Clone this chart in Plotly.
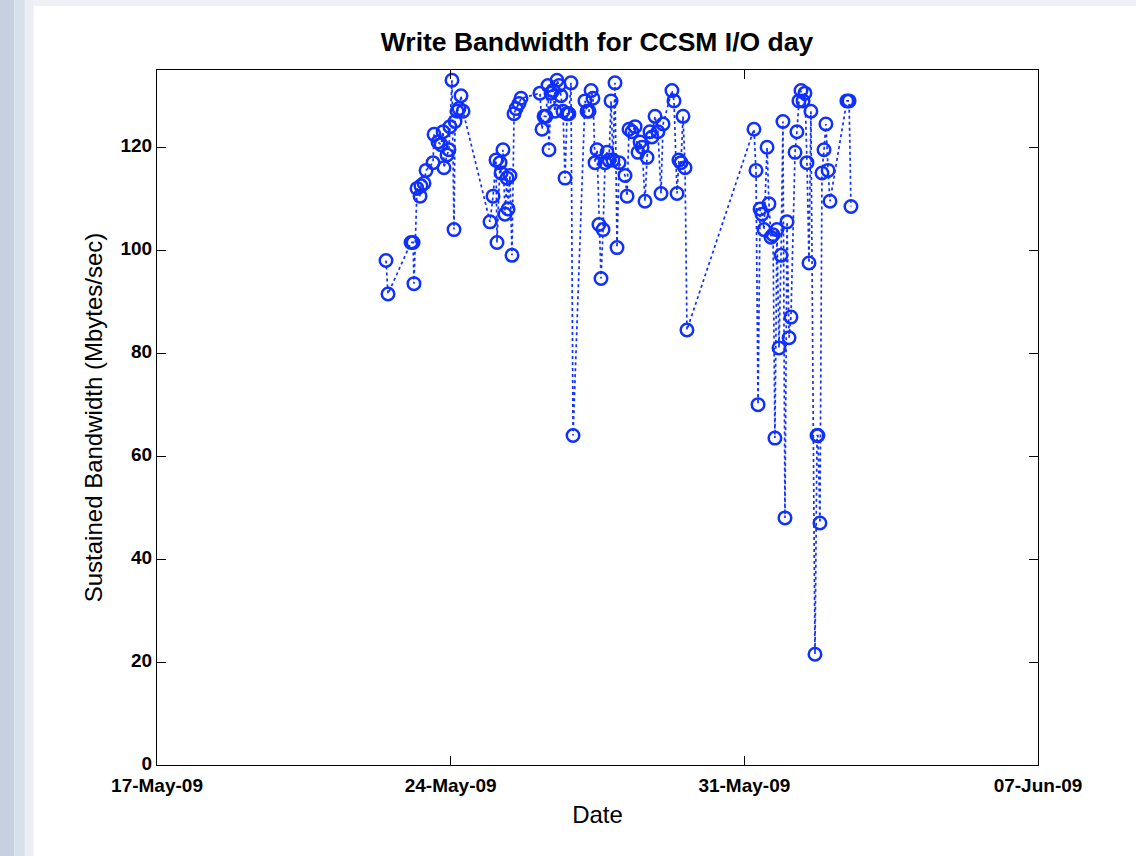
import plotly.graph_objects as go

times = [
    "2009-05-22 11:00", "2009-05-22 12:10", "2009-05-23 01:20", "2009-05-23 02:30", "2009-05-23 03:00",
    "2009-05-23 04:45", "2009-05-23 06:30", "2009-05-23 07:00", "2009-05-23 08:45", "2009-05-23 09:55",
    "2009-05-23 13:55", "2009-05-23 14:30", "2009-05-23 16:45", "2009-05-23 18:30", "2009-05-23 19:40",
    "2009-05-23 20:10", "2009-05-23 21:55", "2009-05-23 23:00", "2009-05-23 23:35", "2009-05-24 00:45",
    "2009-05-24 01:55", "2009-05-24 02:30", "2009-05-24 03:40", "2009-05-24 04:45", "2009-05-24 05:55",
    "2009-05-24 07:05", "2009-05-24 22:30", "2009-05-25 00:15", "2009-05-25 01:55", "2009-05-25 02:30",
    "2009-05-25 04:15", "2009-05-25 04:50", "2009-05-25 05:55", "2009-05-25 07:05", "2009-05-25 08:15",
    "2009-05-25 08:50", "2009-05-25 09:55", "2009-05-25 11:05", "2009-05-25 12:15", "2009-05-25 13:25",
    "2009-05-25 15:05", "2009-05-25 16:15", "2009-05-26 03:05", "2009-05-26 04:15", "2009-05-26 05:25",
    "2009-05-26 06:30", "2009-05-26 07:40", "2009-05-26 08:15", "2009-05-26 09:25", "2009-05-26 10:30",
    "2009-05-26 11:40", "2009-05-26 12:50", "2009-05-26 14:00", "2009-05-26 15:05", "2009-05-26 16:15",
    "2009-05-26 17:25", "2009-05-26 18:35", "2009-05-26 19:40", "2009-05-26 20:50", "2009-05-26 22:00",
    "2009-05-27 04:50", "2009-05-27 06:00", "2009-05-27 07:10", "2009-05-27 08:20", "2009-05-27 09:25",
    "2009-05-27 10:35", "2009-05-27 11:45", "2009-05-27 12:50", "2009-05-27 14:00", "2009-05-27 15:10",
    "2009-05-27 16:20", "2009-05-27 17:25", "2009-05-27 18:35", "2009-05-27 19:45", "2009-05-27 20:50",
    "2009-05-27 22:00", "2009-05-27 23:10", "2009-05-28 00:20", "2009-05-28 03:45", "2009-05-28 04:55",
    "2009-05-28 06:00", "2009-05-28 07:45", "2009-05-28 09:30", "2009-05-28 11:10", "2009-05-28 12:20",
    "2009-05-28 13:30", "2009-05-28 15:10", "2009-05-28 16:20", "2009-05-28 18:00", "2009-05-28 19:10",
    "2009-05-28 20:55", "2009-05-28 22:35", "2009-05-29 00:20", "2009-05-29 01:30", "2009-05-29 06:35",
    "2009-05-29 07:45", "2009-05-29 09:30", "2009-05-29 10:35", "2009-05-29 11:45", "2009-05-29 12:55",
    "2009-05-29 14:05", "2009-05-29 15:10", "2009-05-31 05:30", "2009-05-31 06:40", "2009-05-31 07:50",
    "2009-05-31 09:00", "2009-05-31 10:05", "2009-05-31 11:15", "2009-05-31 13:00", "2009-05-31 14:05",
    "2009-05-31 15:15", "2009-05-31 16:25", "2009-05-31 17:30", "2009-05-31 18:40", "2009-05-31 19:50",
    "2009-05-31 21:00", "2009-05-31 22:05", "2009-05-31 23:15", "2009-06-01 00:25", "2009-06-01 01:35",
    "2009-06-01 02:40", "2009-06-01 05:00", "2009-06-01 06:05", "2009-06-01 07:15", "2009-06-01 08:25",
    "2009-06-01 09:35", "2009-06-01 10:40", "2009-06-01 11:50", "2009-06-01 13:00", "2009-06-01 14:05",
    "2009-06-01 16:25", "2009-06-01 17:35", "2009-06-01 18:05", "2009-06-01 19:15", "2009-06-01 20:25",
    "2009-06-01 21:35", "2009-06-01 22:40", "2009-06-01 23:55", "2009-06-02 01:00", "2009-06-02 10:40",
    "2009-06-02 11:55", "2009-06-02 13:00",
]

bandwidth = [
    98, 91.5, 101.5, 101.5, 93.5,
    112, 110.5, 112.5, 113, 115.5,
    117, 122.5, 121, 120.5, 123,
    116, 118.5, 119.5, 124, 133,
    104, 125, 127, 127.5, 130,
    127, 105.5, 110.5, 117.5, 101.5,
    117, 115, 119.5, 107, 114,
    108, 114.5, 99, 126.5, 127.5,
    128.5, 129.5, 130.5, 123.5, 126,
    126, 132, 119.5, 130.5, 131,
    127, 133, 132, 130, 127,
    114, 126.5, 126.5, 132.5, 64,
    129, 127, 127, 131, 129.5,
    117, 119.5, 105, 94.5, 104,
    117, 119, 117.5, 129, 117.5,
    132.5, 100.5, 117, 114.5, 110.5,
    123.5, 123, 124, 119, 121,
    120, 109.5, 118, 123, 122,
    126, 123, 111, 124.5, 131,
    129, 111, 117.5, 117, 126,
    116, 84.5, 123.5, 115.5, 70,
    108, 107, 104, 120, 109,
    102.5, 103, 63.5, 104, 81,
    99, 125, 48, 105.5, 83,
    87, 119, 123, 129, 131,
    129, 130.5, 117, 97.5, 127,
    21.5, 64, 64, 47, 115,
    119.5, 124.5, 115.5, 109.5, 129,
    129, 108.5,
]

x_tick_vals = ["2009-05-17", "2009-05-24", "2009-05-31", "2009-06-07"]
x_tick_text = ["17-May-09", "24-May-09", "31-May-09", "07-Jun-09"]
y_tick_vals = [0, 20, 40, 60, 80, 100, 120]

blue = "#1030ff"
font_family = "Liberation Sans, Arial, sans-serif"

fig = go.Figure()
fig.add_trace(go.Scatter(
    x=times, y=bandwidth, mode="lines+markers",
    line=dict(color=blue, width=1.7, dash="dot"),
    marker=dict(symbol="circle-open", size=12.5, color=blue, line=dict(width=2.5, color=blue)),
    showlegend=False, hoverinfo="x+y",
))

# slide-like textured strip on left edge and light strip at top
bands = [("#c6d0e0", -0.180, -0.162), ("#d8e0ec", -0.162, -0.150), ("#ebeff5", -0.150, -0.140)]
for col, x0, x1 in bands:
    fig.add_shape(type="rect", xref="paper", yref="paper", x0=x0, x1=x1, y0=-0.14, y1=1.11,
                  fillcolor=col, line=dict(width=0), layer="below")
fig.add_shape(type="rect", xref="paper", yref="paper", x0=-0.140, x1=1.12, y0=1.092, y1=1.11,
              fillcolor="#eef1f6", line=dict(width=0), layer="below")

tick_font = dict(family=font_family, size=19, color="black")

fig.update_layout(
    width=1136, height=856,
    margin=dict(l=157, r=98, t=70, b=91),
    paper_bgcolor="white", plot_bgcolor="white",
    title=dict(text="<b>Write Bandwidth for CCSM I/O day</b>", x=0.5255, xanchor="center",
               y=0.951, yanchor="middle",
               font=dict(family=font_family, size=26.5, color="black")),
    xaxis=dict(
        type="date", range=["2009-05-17", "2009-06-07"],
        tickvals=x_tick_vals, ticktext=[f"<b>{t}</b>" for t in x_tick_text],
        ticks="inside", ticklen=9, tickcolor="black", tickwidth=1,
        showline=True, linecolor="black", linewidth=1, mirror="ticks",
        showgrid=False, zeroline=False, tickfont=tick_font, ticklabelstandoff=3,
        title=dict(text="Date", font=dict(family=font_family, size=24, color="black"),
                   standoff=11),
    ),
    yaxis=dict(
        range=[0, 135], tickvals=y_tick_vals, ticktext=[f"<b>{v}</b>" for v in y_tick_vals],
        ticks="inside", ticklen=9, tickcolor="black", tickwidth=1,
        showline=True, linecolor="black", linewidth=1, mirror="ticks",
        showgrid=False, zeroline=False, tickfont=tick_font, ticklabelshift=-2,
        title=dict(text="Sustained Bandwidth (Mbytes/sec)",
                   font=dict(family=font_family, size=24, color="black"),
                   standoff=11),
    ),
)

fig.write_html("out.html", config={"displayModeBar": False},
               post_script="document.body.style.margin='0';document.body.style.overflow='hidden';")
